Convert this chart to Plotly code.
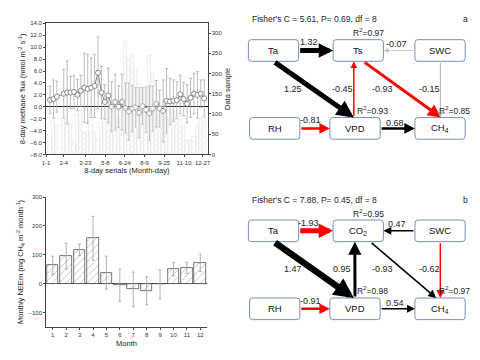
import plotly.graph_objects as go

# ---------------- data: 8-day methane flux ----------------
periods = [1, 2, 3, 5, 6, 7, 8, 9, 10, 11, 12, 13, 14, 15, 16, 17, 18, 19, 20, 21, 22, 23,
           24, 25, 26, 27, 28, 29, 30, 31, 32, 33, 34, 35, 36, 37, 38, 39, 40, 41, 42, 43, 44, 45, 46]
flux_mean = [1.15, 1.3, 1.7, 2.2, 2.4, 2.4, 2.5, 2.0, 2.7, 3.2, 3.0, 3.2, 3.5, 5.7, 2.4, 0.8,
             1.9, 0.0, 0.8, 0.0, 0.8, -0.2, -0.8, -0.3, -0.1, -1.0, 0.1, -0.5, -1.1, -0.3, 0.5,
             -0.3, -0.7, 1.0, 0.9, 1.0, 1.1, 2.1, 1.3, 0.5, 1.5, 2.2, 2.0, 2.2, 1.4]
flux_err = [2.3, 3.2, 2.6, 4.1, 5.3, 2.7, 2.8, 2.6, 2.6, 5.8, 5.8, 5.0, 5.3, 6.0, 4.4, 2.9,
            4.6, 4.2, 4.7, 3.5, 4.7, 4.2, 4.8, 3.9, 3.3, 4.2, 3.1, 3.8, 4.6, 3.8, 3.9,
            3.1, 5.2, 5.4, 3.9, 3.5, 3.1, 3.2, 2.8, 3.2, 3.3, 3.4, 3.9, 2.3, 3.1]
data_sample = [50, 85, 72, 90, 80, 75, 30, 100, 110, 55, 55, 100, 55, 35, 80, 95, 110, 120,
               130, 90, 70, 280, 235, 248, 210, 175, 160, 165, 245, 200, 130, 100, 120, 95, 90,
               110, 90, 100, 70, 35, 35, 45, 75, 90, 95]
period_tickvals = [-0.15, 5.0, 11.3, 17.1, 22.8, 28.6, 34.3, 40.1, 45.5]
period_ticktext = ["1-1", "2-4", "3-23", "5-8", "6-24", "8-9", "9-25", "11-10", "12-27"]

# ---------------- data: monthly NEEm ----------------
months = [1, 2, 3, 4, 5, 6, 7, 8, 9, 10, 11, 12]
neem = [63, 95, 117, 157, 38, -6, -20, -25, -3, 50, 55, 72]
neem_err = [32, 45, 20, 76, 57, 56, 60, 49, 50, 23, 20, 30]

# ---------------- data: path diagrams ----------------
fisher_a = "Fisher's C = 5.61, P= 0.69, df = 8"
fisher_b = "Fisher's C = 7.88, P= 0.45, df = 8"
nodes_a = ["Ta", "Ts", "SWC", "RH", "VPD", "CH<sub>4</sub>"]
nodes_b = ["Ta", "CO<sub>2</sub>", "SWC", "RH", "VPD", "CH<sub>4</sub>"]
# (source, target, coefficient)
edges_a = [("Ta", "Ts", "1.32"), ("SWC", "Ts", "-0.07"), ("Ta", "VPD", "1.25"),
           ("VPD", "Ts", "-0.45"), ("Ts", "CH4", "-0.93"), ("SWC", "CH4", "-0.15"),
           ("RH", "VPD", "-0.81"), ("VPD", "CH4", "0.68")]
edges_b = [("Ta", "CO2", "-1.93"), ("SWC", "CO2", "0.47"), ("Ta", "VPD", "1.47"),
           ("VPD", "CO2", "0.95"), ("CO2", "CH4", "-0.93"), ("SWC", "CH4", "-0.62"),
           ("RH", "VPD", "-0.91"), ("VPD", "CH4", "0.54")]
r2_a = [("Ts", "0.97"), ("VPD", "0.93"), ("CH4", "0.85")]
r2_b = [("CO2", "0.95"), ("VPD", "0.98"), ("CH4", "0.97")]

FONT = "Liberation Sans"
fig = go.Figure()

# ---- top-left chart ----
fig.add_trace(go.Bar(
    x=periods, y=data_sample, yaxis="y2", xaxis="x", width=0.95,
    marker=dict(color="rgba(0,0,0,0)", line=dict(color="#e2e2e2", width=0.6),
                pattern=dict(shape="/", fgcolor="#d9d9d9", bgcolor="rgba(0,0,0,0)", size=4, solidity=0.2)),
    showlegend=False))
fig.add_trace(go.Scatter(
    x=periods, y=flux_mean, xaxis="x", yaxis="y", mode="lines+markers",
    line=dict(color="#8a8a8a", width=1),
    marker=dict(symbol="circle", size=5, color="white", line=dict(width=0.8, color="#6e6e6e")),
    error_y=dict(type="data", array=flux_err, color="#ababab", thickness=0.8, width=1.5),
    showlegend=False))

# ---- bottom-left chart ----
fig.add_trace(go.Bar(
    x=months, y=neem, xaxis="x2", yaxis="y3", width=0.86,
    marker=dict(color="white", line=dict(color="#555555", width=0.8),
                pattern=dict(shape="/", fgcolor="#6a6a6a", bgcolor="white", size=5, solidity=0.15)),
    error_y=dict(type="data", array=neem_err, color="#a0a0a0", thickness=0.8, width=1.5),
    showlegend=False))

tickfont = dict(family=FONT, size=6, color="#333333")
titlefont = dict(family=FONT, size=7.5, color="#222222")

layout = dict(
    width=480, height=360, margin=dict(l=0, r=0, t=0, b=0),
    paper_bgcolor="white", plot_bgcolor="rgba(0,0,0,0)",
    font=dict(family=FONT), bargap=0,
    xaxis=dict(domain=[42.7 / 480, 206.7 / 480], anchor="y", range=[-0.15, 47],
               tickvals=period_tickvals, ticktext=period_ticktext, ticks="outside", ticklen=2,
               tickcolor="#444", showline=True, linecolor="#444", linewidth=0.8, mirror=True,
               showgrid=False, zeroline=False, tickfont=tickfont,
               title=dict(text="8-day serials (Month-day)", font=titlefont, standoff=3)),
    yaxis=dict(domain=[1 - 154 / 360, 1 - 20.7 / 360], anchor="x", range=[-8, 14], dtick=2,
               tickformat=".1f", ticks="outside", ticklen=2, tickcolor="#444", showline=True,
               linecolor="#444", linewidth=0.8, showgrid=False, zeroline=True,
               zerolinecolor="#222", zerolinewidth=1, tickfont=tickfont,
               title=dict(text="8-day methane flux (nmol m<sup>-2</sup> s<sup>-1</sup>)",
                          font=titlefont, standoff=3)),
    yaxis2=dict(overlaying="y", side="right", anchor="x", range=[0, 324], dtick=50,
                ticks="outside", ticklen=2, tickcolor="#444", showline=True, linecolor="#444",
                linewidth=0.8, showgrid=False, zeroline=False, tickfont=tickfont,
                title=dict(text="Data sample", font=titlefont, standoff=3)),
    xaxis2=dict(domain=[42.7 / 480, 206 / 480], anchor="y3", range=[0.5, 12.5], dtick=1,
                ticks="outside", ticklen=2, tickcolor="#444", showline=True, linecolor="#444",
                linewidth=0.8, showgrid=False, zeroline=False, tickfont=tickfont,
                title=dict(text="Month", font=titlefont, standoff=3)),
    yaxis3=dict(domain=[1 - 329.3 / 360, 1 - 197.3 / 360], anchor="x2", range=[-150, 300],
                tickvals=[-100, 0, 100, 200, 300], ticks="outside", ticklen=2, tickcolor="#444",
                showline=True, linecolor="#444", linewidth=0.8, showgrid=False, zeroline=True,
                zerolinecolor="#222", zerolinewidth=1, tickfont=tickfont,
                title=dict(text="Monthly NEEm (mg CH<sub>4</sub> m<sup>-2</sup> month<sup>-1</sup>)",
                           font=titlefont, standoff=3)),
    # overlay pixel-space axes for diagrams
    xaxis3=dict(domain=[0, 1], anchor="y4", range=[0, 480], visible=False, fixedrange=True),
    yaxis4=dict(domain=[0, 1], anchor="x3", range=[360, 0], visible=False, fixedrange=True),
)
fig.update_layout(**layout)
fig.add_trace(go.Scatter(x=[0], y=[0], xaxis="x3", yaxis="y4", mode="markers",
                         marker=dict(opacity=0), showlegend=False, hoverinfo="skip"))

# ---------------- diagram layout (positions / styles) ----------------
BW, BH = 51, 22
def node_centers(y_top, y_bot):
    return {"Ta": (273.5, y_top), "Ts": (359.5, y_top), "CO2": (359.5, y_top),
            "SWC": (442.5, y_top), "RH": (274.7, y_bot), "VPD": (356.2, y_bot),
            "CH4": (442.5, y_bot)}

def rrect(cx, cy, w, h, r=3):
    x0, x1, y0, y1 = cx - w / 2, cx + w / 2, cy - h / 2, cy + h / 2
    return (f"M{x0+r},{y0} L{x1-r},{y0} Q{x1},{y0} {x1},{y0+r} L{x1},{y1-r} "
            f"Q{x1},{y1} {x1-r},{y1} L{x0+r},{y1} Q{x0},{y1} {x0},{y1-r} "
            f"L{x0},{y0+r} Q{x0},{y0} {x0+r},{y0} Z")

key_of = {"Ta": "Ta", "Ts": "Ts", "CO<sub>2</sub>": "CO2", "SWC": "SWC", "RH": "RH",
          "VPD": "VPD", "CH<sub>4</sub>": "CH4"}

RED, BLK = "#ff0000", "#000000"
# (color, width, head length px, tail (dx, side), head (dx, side), label position)
style_a = [
    (BLK, 5.0, 11, (0, "r"), (0, "l"), (309.5, 39.5)),
    ("#c8c8c8", 1.0, 4, (0, "l"), (0, "r"), (398.5, 41.5)),
    (BLK, 5.0, 13, (0, "b"), (-1.2, "t"), (293.5, 87.5)),
    (RED, 1.5, 5, (-1.2, "t"), (-4.5, "b"), (343.5, 87.5)),
    (RED, 3.0, 10, (5, "b"), (1, "t"), (384.5, 87.5)),
    ("#b0b0b0", 1.0, 4, (0.3, "b"), (0.3, "t"), (431.5, 87.5)),
    (RED, 2.5, 8, (0, "r"), (0, "l"), (311, 119)),
    (BLK, 2.5, 8, (0, "r"), (0, "l"), (397, 122)),
]
style_b = [
    (RED, 5.0, 11, (0, "r"), (0, "l"), (309.5, 223.5)),
    (BLK, 1.5, 6, (0, "l"), (0, "r"), (398.5, 224.5)),
    (BLK, 6.5, 15, (0, "b"), (-1.2, "t"), (293.5, 271)),
    (BLK, 3.0, 10, (0, "t"), (-3.5, "b"), (342.5, 271)),
    (BLK, 1.5, 6, (12, "b"), (-4, "t"), (384.5, 271)),
    (RED, 1.5, 6, (0.3, "b"), (0.3, "t"), (431.5, 271)),
    (RED, 2.5, 8, (0, "r"), (0, "l"), (311, 303.5)),
    (BLK, 1.5, 6, (0, "r"), (0, "l"), (397, 305)),
]

def anchor(c, dx, side):
    cx, cy = c
    if side == "r":
        return cx + BW / 2, cy
    if side == "l":
        return cx - BW / 2, cy
    if side == "t":
        return cx + dx, cy - BH / 2
    return cx + dx, cy + BH / 2

shapes = []
arrows = []
texts = []
def draw_panel(nodes, edges, styles, r2, fisher, letter, y_top, y_bot, y_head):
    C = node_centers(y_top, y_bot)
    for n in nodes:
        cx, cy = C[key_of[n]]
        shapes.append(dict(type="path", path=rrect(cx, cy, BW, BH), xref="x3", yref="y4",
                           line=dict(color="#7590b5", width=1), fillcolor="white", layer="below"))
        texts.append(dict(x=cx, y=cy, xref="x3", yref="y4", text=n, showarrow=False,
                          font=dict(family=FONT, size=9.5, color="#111")))
    for (s, t, coef), (col, w, hl, (dxs, ss), (dxt, st), (lx, ly)) in zip(edges, styles):
        x0, y0 = anchor(C[s], dxs, ss)
        x1, y1 = anchor(C[t], dxt, st)
        arrows.append(dict(x=x1, y=y1, ax=x0, ay=y0, xref="x3", yref="y4",
                           axref="x3", ayref="y4", text="", showarrow=True,
                           arrowhead=2, arrowsize=hl / (3.8 * w),
                           arrowwidth=w, arrowcolor=col, standoff=0, startstandoff=0))
        texts.append(dict(x=lx, y=ly, xref="x3", yref="y4", text=coef, showarrow=False,
                          font=dict(family=FONT, size=9, color="#222")))
    for (n, v) in r2:
        if n in ("Ts", "CO2"):
            px, py = 369.5, y_top - 18
        elif n == "VPD":
            px, py = 373.5, y_bot - 18.5
        else:
            px, py = 457, y_bot - 18.5
        texts.append(dict(x=px, y=py, xref="x3", yref="y4", text=f"R<sup>2</sup>={v}",
                          showarrow=False, font=dict(family=FONT, size=8.5, color="#222")))
    texts.append(dict(x=250, y=y_head, xref="x3", yref="y4", text=fisher, xanchor="left",
                      showarrow=False, font=dict(family=FONT, size=8.5, color="#222")))
    texts.append(dict(x=468, y=y_head, xref="x3", yref="y4", text=letter,
                      showarrow=False, font=dict(family=FONT, size=8.5, color="#222")))

draw_panel(nodes_a, edges_a, style_a, r2_a, fisher_a, "a", 48.3, 127.5, 16.5)
draw_panel(nodes_b, edges_b, style_b, r2_b, fisher_b, "b", 231.7, 311, 200.5)

fig.update_layout(shapes=shapes, annotations=arrows + texts)
fig.write_html("out.html", config={"displayModeBar": False},
               post_script="document.body.style.margin='0';document.body.style.overflow='hidden';")
